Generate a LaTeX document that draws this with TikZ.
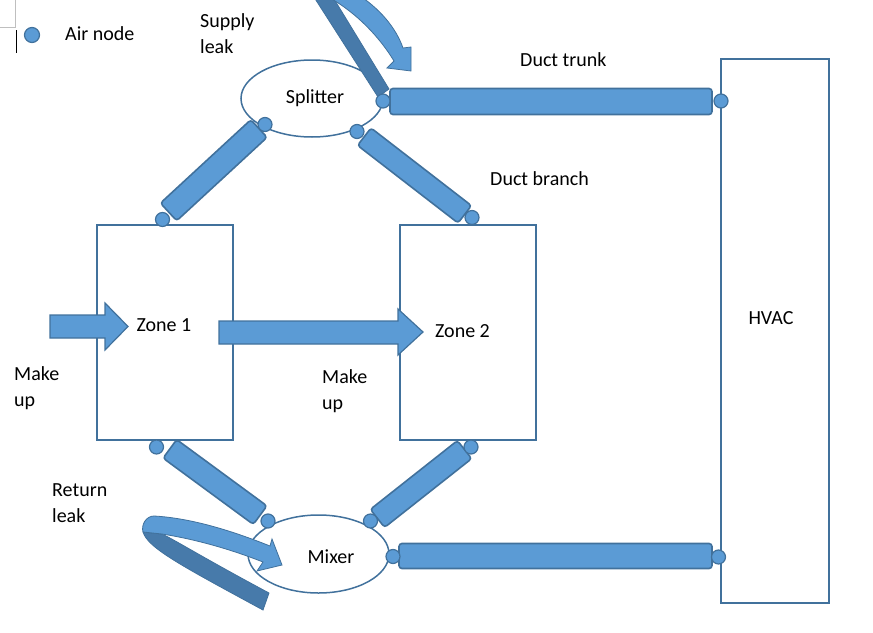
\documentclass[tikz,border=0pt]{standalone}
\usepackage{fontspec}
\setmainfont{Carlito}
\usetikzlibrary{shapes.geometric}
\definecolor{fillblue}{RGB}{91,155,213}
\definecolor{lineblue}{RGB}{65,113,156}
\definecolor{darkblue}{RGB}{71,122,170}
\begin{document}
\begin{tikzpicture}[x=1pt,y=-1pt,
  lbl/.style={font=\fontsize{20}{26}\selectfont, inner sep=0pt, align=left, text=black},
  zone/.style={draw=lineblue, line width=2pt, fill=none, inner sep=0pt},
  vessel/.style={ellipse, draw=lineblue, line width=1.5pt, fill=white, inner sep=0pt},
  duct/.style={draw=lineblue, fill=fillblue, line width=1.6pt, rounded corners=3pt, inner sep=0pt},
  airnode/.style={circle, draw=lineblue, fill=fillblue, line width=1.2pt, minimum size=14pt, inner sep=0pt},
  blockarrow/.style={draw=lineblue, fill=fillblue, line width=1.2pt, line join=miter},
  ribbonback/.style={draw=lineblue, fill=darkblue, line width=0.8pt},
  ribbonfront/.style={draw=lineblue, fill=fillblue, line width=0.8pt}]
\useasboundingbox (0,0) rectangle (873,632);

% editor marks
\draw[gray!50, line width=0.8pt] (0,27) -- (15,27) -- (15,0);
\draw[black, line width=0.8pt] (16,30) -- (16,53);

% legend
\node[airnode, minimum size=15pt] (legend) at (32,35) {};
\node[lbl, anchor=west] (legendtext) at (65,34) {Air node};

% boxes
\node[zone, minimum width=136pt, minimum height=215pt] (zone1) at (165,332.5) {};
\node[zone, minimum width=136pt, minimum height=215pt] (zone2) at (468,332.5) {};
\node[zone, minimum width=108pt, minimum height=544pt] (hvac) at (775,330.5) {};
\node[lbl] (zone1text) at (164,325) {Zone 1};
\node[lbl] (zone2text) at (462.5,331) {Zone 2};
\node[lbl] (hvactext) at (771,318) {HVAC};

% splitter and mixer
\node[vessel, minimum width=142pt, minimum height=77pt] (splitter) at (312,98.5) {};
\node[lbl] (splittertext) at (315,98) {Splitter};
\node[vessel, minimum width=141pt, minimum height=78pt] (mixer) at (318.5,554) {};
\node[lbl] (mixertext) at (331,557) {Mixer};

% ducts
\node[duct, minimum width=322pt, minimum height=26pt] (trunk) at (551,101.5) {};
\node[duct, minimum width=313pt, minimum height=25pt] (retduct) at (555.5,556) {};
\node[duct, minimum width=123pt, minimum height=24pt, rotate=42.7] (branch1) at (213.75,170.25) {};
\node[duct, minimum width=127pt, minimum height=22pt, rotate=-37.7] (branch2) at (414.5,175.5) {};
\node[duct, minimum width=112pt, minimum height=23pt, rotate=-36.3] (branch3) at (215,482) {};
\node[duct, minimum width=111pt, minimum height=23pt, rotate=38.3] (branch4) at (421,484) {};

% make up arrows
\draw[blockarrow] (50,315) -- (105,315) -- (105,303) -- (128,326.5) -- (105,350) -- (105,338) -- (50,338) -- cycle;
\draw[blockarrow] (219,321) -- (398,321) -- (398,309) -- (423,332) -- (398,355) -- (398,344) -- (219,344) -- cycle;

% supply leak ribbon arrow
\draw[ribbonback] (312,-6) -- (331,-6) -- (389,89) -- (378,97) -- cycle;
\draw[ribbonfront] (354,-8) .. controls (380,8) and (396,28) .. (403,48) -- (411,47) -- (411,71)
  -- (387,68) -- (394,61) .. controls (380,38) and (358,14) .. (330,-2) -- cycle;

% return leak ribbon arrow
\draw[ribbonback] (143,532) .. controls (148,548) and (180,565) .. (263,610) -- (269,593)
  .. controls (200,556) and (175,540) .. (162,534) -- cycle;
\draw[ribbonfront] (162,534) .. controls (200,540) and (235,551) .. (263,562) -- (257,571)
  -- (282,565) -- (272,539) -- (270,546) .. controls (230,530) and (190,518) .. (154,516)
  .. controls (146,516) and (141,525) .. (143,532) -- cycle;

% air nodes
\node[airnode] (sR) at (383,101) {};
\node[airnode] (hT) at (721,101) {};
\node[airnode] (sBL) at (265,124.5) {};
\node[airnode] (sBR) at (357,131.5) {};
\node[airnode] (z1T) at (162.5,219.5) {};
\node[airnode] (z2T) at (472,217.5) {};
\node[airnode] (z1B) at (156.5,447) {};
\node[airnode] (z2B) at (471,447) {};
\node[airnode] (mTL) at (268,521) {};
\node[airnode] (mTR) at (370.5,521) {};
\node[airnode] (mR) at (393,556.5) {};
\node[airnode] (hB) at (718.5,557) {};

% labels
\node[lbl, anchor=west] (supplyleak) at (200,34) {Supply\\leak};
\node[lbl, anchor=west] (trunktext) at (520,60) {Duct trunk};
\node[lbl, anchor=west] (branchtext) at (490,179) {Duct branch};
\node[lbl, anchor=west] (makeup1) at (14,388) {Make\\up};
\node[lbl, anchor=west] (makeup2) at (322,391) {Make\\up};
\node[lbl, anchor=west] (returnleak) at (52,503) {Return\\leak};
\end{tikzpicture}
\end{document}
